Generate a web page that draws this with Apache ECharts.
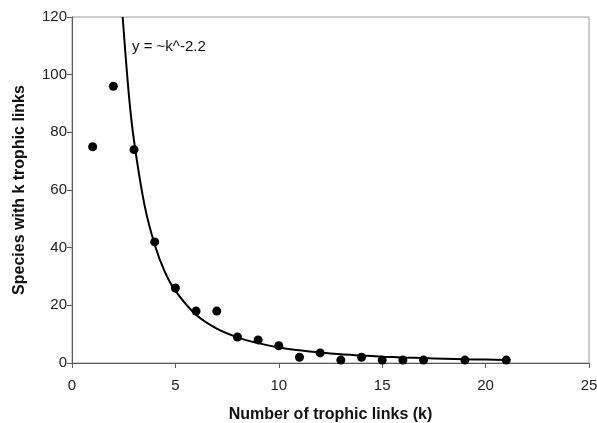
<!DOCTYPE html>
<html>
<head>
<meta charset="utf-8">
<script src="https://cdn.jsdelivr.net/npm/echarts@6/dist/echarts.min.js"></script>
<style>
  html, body { margin: 0; padding: 0; background: #fff; }
  #chart { width: 597px; height: 423px; }
</style>
</head>
<body>
<div id="chart"></div>
<script>
// Observed number of species having k trophic links
const linkCounts = [1, 2, 3, 4, 5, 6, 7, 8, 9, 10, 11, 12, 13, 14, 15, 16, 17, 19, 21];
const speciesCounts = [75, 96, 74, 42, 26, 18, 18, 9, 8, 6, 2, 3.5, 1, 2, 1, 1, 1, 1, 1];

// Power-law trend line (y ~ k^-2.2)
const trendK = [2.45, 2.75, 3, 3.5, 4, 4.5, 5, 6, 7, 8, 9, 10, 11, 12, 13, 14, 15, 16, 17, 18, 19, 20, 21];
const trendY = [120, 93, 77, 55, 41, 31.4, 25, 16.7, 11.9, 8.9, 6.9, 5.4, 4.4, 3.6, 3.0, 2.6, 2.2, 1.9, 1.7, 1.5, 1.3, 1.2, 1.05];

const xTicks = { min: 0, max: 25, step: 5 };
const yTicks = { min: 0, max: 120, step: 20 };

const xLabel = 'Number of trophic links (k)';
const yLabel = 'Species with k trophic links';
const fitLabel = 'y = ~k^-2.2';

const font = '"Liberation Sans", Arial, Helvetica, sans-serif';

const chart = echarts.init(document.getElementById('chart'), null, { renderer: 'canvas' });

const axisLineStyle = { color: '#5a5a5a', width: 1 };

chart.setOption({
  animation: false,
  backgroundColor: '#ffffff',
  grid: {
    left: 72, right: 8, top: 17, bottom: 60,
    outerBoundsMode: 'none',
    containLabel: false,
    show: true, borderColor: '#9a9a9a', borderWidth: 1, backgroundColor: 'transparent'
  },
  xAxis: {
    type: 'value',
    min: xTicks.min, max: xTicks.max, interval: xTicks.step,
    name: xLabel,
    nameLocation: 'middle',
    nameGap: 44,
    nameTextStyle: { fontFamily: font, fontSize: 16, fontWeight: 'bold', color: '#111' },
    axisLine: { show: true, onZero: false, lineStyle: axisLineStyle },
    axisTick: { show: true, inside: false, length: 5, lineStyle: axisLineStyle },
    axisLabel: { fontFamily: font, fontSize: 15, color: '#222', margin: 15 },
    splitLine: { show: false }
  },
  yAxis: {
    type: 'value',
    min: yTicks.min, max: yTicks.max, interval: yTicks.step,
    name: yLabel,
    nameLocation: 'middle',
    nameGap: 44,
    nameTextStyle: { fontFamily: font, fontSize: 16, fontWeight: 'bold', color: '#111' },
    axisLine: { show: true, onZero: false, lineStyle: axisLineStyle },
    axisTick: { show: true, inside: false, length: 5, lineStyle: axisLineStyle },
    axisLabel: { fontFamily: font, fontSize: 15, color: '#222', margin: 5 },
    splitLine: { show: false }
  },
  graphic: [{
    type: 'text',
    left: 132,
    top: 39,
    style: { text: fitLabel, font: '15px ' + font, fill: '#111' }
  }],
  series: [
    {
      name: 'trend',
      type: 'line',
      data: trendK.map((k, i) => [k, trendY[i]]),
      showSymbol: false,
      smooth: 0.3,
      clip: true,
      lineStyle: { color: '#000', width: 2 },
      z: 2
    },
    {
      name: 'observed',
      type: 'scatter',
      data: linkCounts.map((k, i) => [k, speciesCounts[i]]),
      symbol: 'circle',
      symbolSize: 9,
      itemStyle: { color: '#000', opacity: 1 },
      z: 3
    }
  ]
});
</script>
</body>
</html>
